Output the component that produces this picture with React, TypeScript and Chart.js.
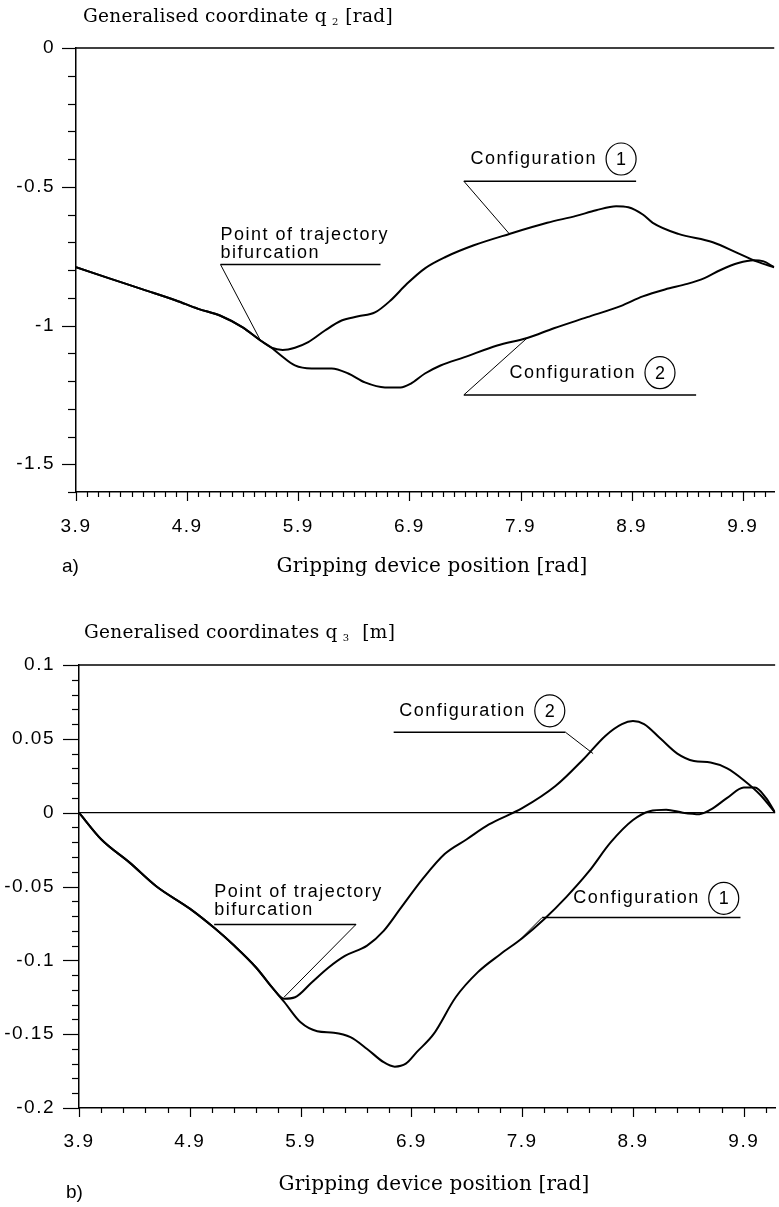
import React, { useEffect, useRef } from "react";
import { Chart, registerables } from "chart.js";

Chart.register(...registerables);

// ---------------- data ----------------
const xMin = 3.9;
const xMax = 10.183;
const xTickValues = [3.9, 4.9, 5.9, 6.9, 7.9, 8.9, 9.9];

// (a) generalised coordinate q2 [rad]
const q2YMin = -1.6;
const q2YMax = 0;
const q2YTicks = [0, -0.5, -1, -1.5];

const q2Config1X = [3.9, 4.2, 4.5, 4.8, 5.0, 5.2, 5.4, 5.56, 5.66, 5.76, 5.87, 5.99, 6.14, 6.29, 6.44, 6.59, 6.73, 6.88, 7.04, 7.22, 7.48, 7.8, 8.14, 8.4, 8.58, 8.76, 8.87, 9.0, 9.09, 9.32, 9.63, 9.86, 10.03, 10.183];
const q2Config1Y = [-0.79, -0.83, -0.87, -0.91, -0.94, -0.965, -1.007, -1.054, -1.08, -1.088, -1.08, -1.06, -1.018, -0.982, -0.967, -0.953, -0.91, -0.849, -0.794, -0.754, -0.711, -0.67, -0.63, -0.605, -0.585, -0.57, -0.574, -0.6, -0.63, -0.67, -0.7, -0.74, -0.77, -0.79];

const q2Config2X = [3.9, 4.2, 4.5, 4.8, 5.0, 5.2, 5.4, 5.56, 5.66, 5.72, 5.87, 6.02, 6.2, 6.35, 6.5, 6.68, 6.82, 6.91, 7.04, 7.18, 7.39, 7.69, 7.96, 8.2, 8.5, 8.8, 9.0, 9.2, 9.4, 9.55, 9.7, 9.86, 10.0, 10.08, 10.183];
const q2Config2Y = [-0.79, -0.83, -0.87, -0.91, -0.94, -0.965, -1.007, -1.054, -1.08, -1.1, -1.144, -1.155, -1.155, -1.173, -1.205, -1.223, -1.223, -1.21, -1.173, -1.144, -1.115, -1.072, -1.045, -1.01, -0.97, -0.93, -0.895, -0.87, -0.85, -0.83, -0.8, -0.775, -0.765, -0.768, -0.79];

// (b) generalised coordinate q3 [m]
const q3YMin = -0.2;
const q3YMax = 0.1;
const q3YTicks = [0.1, 0.05, 0, -0.05, -0.1, -0.15, -0.2];

const q3Config1X = [3.9, 4.1, 4.36, 4.6, 4.9, 5.12, 5.3, 5.5, 5.65, 5.75, 5.9, 6.05, 6.2, 6.35, 6.5, 6.65, 6.75, 6.85, 6.95, 7.1, 7.3, 7.5, 7.7, 7.9, 8.1, 8.3, 8.5, 8.7, 8.9, 9.05, 9.2, 9.35, 9.5, 9.6, 9.75, 9.9, 10.0, 10.1, 10.183];
const q3Config1Y = [0, -0.018, -0.034, -0.05, -0.065, -0.078, -0.09, -0.105, -0.119, -0.128, -0.142, -0.148, -0.149, -0.152, -0.16, -0.169, -0.172, -0.17, -0.162, -0.15, -0.125, -0.108, -0.096, -0.085, -0.072, -0.057, -0.04, -0.02, -0.005, 0.001, 0.002, 0.0, -0.001, 0.002, 0.01, 0.017, 0.017, 0.01, 0];

const q3Config2X = [3.9, 4.1, 4.36, 4.6, 4.9, 5.12, 5.3, 5.5, 5.65, 5.75, 5.85, 6.0, 6.15, 6.3, 6.5, 6.65, 6.8, 7.0, 7.2, 7.4, 7.6, 7.9, 8.2, 8.45, 8.65, 8.8, 8.9, 9.0, 9.15, 9.3, 9.45, 9.6, 9.75, 9.9, 10.05, 10.183];
const q3Config2Y = [0, -0.018, -0.034, -0.05, -0.065, -0.078, -0.09, -0.105, -0.119, -0.126, -0.125, -0.115, -0.105, -0.097, -0.09, -0.08, -0.065, -0.045, -0.028, -0.018, -0.008, 0.003, 0.018, 0.036, 0.052, 0.06, 0.062, 0.06, 0.05, 0.04, 0.035, 0.034, 0.03, 0.022, 0.012, 0];

// ---------------- annotation layout (data-unit anchors) ----------------
type Note = {
  lines: string[];
  circled?: string;
  textX: number;
  textY: number[];
  underline: [number, number, number];
  leader: [number, number, number, number];
};

const q2Notes: Note[] = [
  { lines: ["Configuration"], circled: "1", textX: 7.45, textY: [-0.4], underline: [7.39, 8.94, -0.48], leader: [7.39, -0.48, 7.8, -0.67] },
  { lines: ["Point of trajectory", "bifurcation"], textX: 5.2, textY: [-0.675, -0.74], underline: [5.2, 6.64, -0.78], leader: [5.2, -0.78, 5.56, -1.054] },
  { lines: ["Configuration"], circled: "2", textX: 7.8, textY: [-1.17], underline: [7.39, 9.48, -1.25], leader: [7.39, -1.25, 7.96, -1.045] },
];

const q3Notes: Note[] = [
  { lines: ["Configuration"], circled: "2", textX: 6.79, textY: [0.069], underline: [6.74, 8.29, 0.0545], leader: [8.29, 0.0545, 8.54, 0.04] },
  { lines: ["Point of trajectory", "bifurcation"], textX: 5.12, textY: [-0.0535, -0.066], underline: [5.12, 6.4, -0.0757], leader: [6.4, -0.0757, 5.75, -0.125] },
  { lines: ["Configuration"], circled: "1", textX: 8.36, textY: [-0.058], underline: [8.08, 9.87, -0.071], leader: [8.08, -0.071, 7.88, -0.086] },
];

// ---------------- helpers ----------------
const SANS = '"Liberation Sans", Arial, sans-serif';
const SERIF = '"DejaVu Serif", serif';

function pts(xs: number[], ys: number[]) {
  return xs.map((x, i) => ({ x, y: ys[i] }));
}

function drawText(ctx: CanvasRenderingContext2D, s: string, x: number, y: number, font: string, spacing: number, align: CanvasTextAlign = "left") {
  ctx.save();
  ctx.font = font;
  (ctx as any).letterSpacing = spacing + "px";
  ctx.textAlign = align;
  ctx.textBaseline = "middle";
  ctx.fillStyle = "#000";
  ctx.fillText(s, x, y);
  const w = ctx.measureText(s).width;
  ctx.restore();
  return w;
}

function line(ctx: CanvasRenderingContext2D, x1: number, y1: number, x2: number, y2: number, w = 1) {
  ctx.save();
  ctx.strokeStyle = "#000";
  ctx.lineWidth = w;
  ctx.beginPath();
  ctx.moveTo(x1, y1);
  ctx.lineTo(x2, y2);
  ctx.stroke();
  ctx.restore();
}

const framePlugin = {
  id: "frame",
  beforeDraw(chart: any) {
    (chart.ctx as any).letterSpacing = "1.5px";
  },
  afterDraw(chart: any, _args: any, opts: any) {
    const ctx: CanvasRenderingContext2D = chart.ctx;
    (ctx as any).letterSpacing = "0px";
    const xs = chart.scales.x;
    const ys = chart.scales.y;
    const { left, right, top, bottom } = chart.chartArea;

    // top frame line
    line(ctx, left, top, right, top, 1.5);
    if (opts.zeroLine) {
      const zy = ys.getPixelForValue(0);
      line(ctx, left, zy, right, zy, 1.2);
    }

    // y ticks
    const yMajors: number[] = opts.yMajors;
    const nMinor = Math.round((ys.max - ys.min) / opts.yMinorStep);
    for (let i = 0; i <= nMinor; i++) {
      const v = ys.min + i * opts.yMinorStep;
      const isMajor = yMajors.some((m) => Math.abs(m - v) < 1e-6);
      const py = Math.round(ys.getPixelForValue(v)) + 0.5;
      line(ctx, left - (isMajor ? opts.yMajorLen : opts.yMinorLen), py, left, py, 1.2);
    }
    // x ticks
    const nx = Math.floor((xs.max - xs.min) / opts.xMinorStep + 1e-6);
    for (let i = 0; i <= nx; i++) {
      const v = xs.min + i * opts.xMinorStep;
      const isMajor = xTickValues.some((m) => Math.abs(m - v) < 1e-6);
      const px = Math.round(xs.getPixelForValue(v)) + 0.5;
      line(ctx, px, bottom, px, bottom + (isMajor ? opts.xMajorLen : opts.xMinorLen), 1.2);
    }

    // titles
    const t = opts.title;
    let tx = t.x;
    tx += drawText(ctx, t.main, tx, t.y, t.font, t.spacing);
    tx += 5;
    tx += drawText(ctx, t.sub, tx, t.y + 5, t.subFont, 0);
    drawText(ctx, t.unit, tx + 7, t.y, t.font, t.spacing);

    const xt = opts.xTitle;
    drawText(ctx, xt.text, xt.x, xt.y, xt.font, xt.spacing, "center");
    const pl = opts.panel;
    drawText(ctx, pl.text, pl.x, pl.y, pl.font, 0);

    // annotations
    const notes: Note[] = opts.notes;
    const nf = "18px " + SANS;
    notes.forEach((n) => {
      const x0 = xs.getPixelForValue(n.textX);
      let w = 0;
      n.lines.forEach((s, i) => {
        const ww = drawText(ctx, s, x0, ys.getPixelForValue(n.textY[i]), nf, 1.5);
        w = Math.max(w, ww);
      });
      if (n.circled) {
        const cy = ys.getPixelForValue(n.textY[0]);
        const cx = x0 + w + 24;
        ctx.save();
        ctx.strokeStyle = "#000";
        ctx.lineWidth = 1.2;
        ctx.beginPath();
        ctx.ellipse(cx, cy, 15, 16, 0, 0, Math.PI * 2);
        ctx.stroke();
        ctx.restore();
        drawText(ctx, n.circled, cx, cy + 1, nf, 0, "center");
      }
      const [ux1, ux2, uy] = n.underline;
      const py = ys.getPixelForValue(uy);
      line(ctx, xs.getPixelForValue(ux1), py, xs.getPixelForValue(ux2), py, 1.5);
      const [lx1, ly1, lx2, ly2] = n.leader;
      line(ctx, xs.getPixelForValue(lx1), ys.getPixelForValue(ly1), xs.getPixelForValue(lx2), ys.getPixelForValue(ly2), 1);
    });
  },
};

function makeConfig(p: any) {
  return {
    type: "line",
    data: {
      datasets: p.series.map((s: any) => ({
        data: s,
        borderColor: "#000",
        borderWidth: 2,
        pointRadius: 0,
        fill: false,
        cubicInterpolationMode: "monotone",
      })),
    },
    options: {
      animation: false,
      responsive: false,
      devicePixelRatio: 1,
      events: [],
      layout: { padding: { left: 0, right: 0, top: p.padTop, bottom: 0 } },
      plugins: {
        legend: { display: false },
        tooltip: { enabled: false },
        title: { display: false },
        frame: p.frame,
      },
      scales: {
        x: {
          type: "linear",
          bounds: "data",
          min: xMin,
          max: xMax,
          afterBuildTicks: (s: any) => {
            s.ticks = xTickValues.map((v) => ({ value: v }));
          },
          afterFit: (s: any) => {
            s.height = p.xHeight;
          },
          ticks: {
            autoSkip: false,
            maxRotation: 0,
            padding: p.xPad,
            color: "#000",
            font: { family: SANS, size: 19 },
            callback: (v: number) => v.toFixed(1),
          },
          grid: { display: false, drawTicks: false },
          border: { display: true, color: "#000", width: 1.5 },
        },
        y: {
          type: "linear",
          bounds: "data",
          min: p.yMin,
          max: p.yMax,
          afterBuildTicks: (s: any) => {
            s.ticks = p.yTicks.map((v: number) => ({ value: v }));
          },
          afterFit: (s: any) => {
            s.width = p.yWidth;
          },
          ticks: {
            autoSkip: false,
            padding: p.yPad,
            color: "#000",
            font: { family: SANS, size: 19 },
            callback: (v: number) => String(v),
          },
          grid: { display: false, drawTicks: false },
          border: { display: true, color: "#000", width: 1.5 },
        },
      },
    },
    plugins: [framePlugin],
  };
}

function Panel(props: { cfg: any; top: number; height: number }) {
  const ref = useRef<HTMLCanvasElement>(null);
  useEffect(() => {
    const chart = new Chart(ref.current as HTMLCanvasElement, props.cfg);
    return () => chart.destroy();
  }, []);
  return (
    <canvas
      ref={ref}
      width={779}
      height={props.height}
      style={{ position: "absolute", left: 0, top: props.top, width: 779, height: props.height }}
    />
  );
}

const cfgA = makeConfig({
  series: [pts(q2Config1X, q2Config1Y), pts(q2Config2X, q2Config2Y)],
  padTop: 48,
  xHeight: 108,
  xPad: 23,
  yPad: 21,
  yWidth: 76,
  yMin: q2YMin,
  yMax: q2YMax,
  yTicks: q2YTicks,
  frame: {
    zeroLine: false,
    yMajors: q2YTicks,
    yMinorStep: 0.1,
    yMajorLen: 14,
    yMinorLen: 8,
    xMinorStep: 0.1,
    xMajorLen: 9,
    xMinorLen: 5,
    title: { x: 83, y: 17, main: "Generalised coordinate q", sub: "2", unit: "[rad]", font: "18.5px " + SERIF, subFont: "10px " + SERIF, spacing: 0.3 },
    xTitle: { text: "Gripping device position [rad]", x: 432, y: 567, font: "20px " + SERIF, spacing: 0.2 },
    panel: { text: "a)", x: 62, y: 567, font: "19px " + SANS },
    notes: q2Notes,
  },
});

const cfgB = makeConfig({
  series: [pts(q3Config1X, q3Config1Y), pts(q3Config2X, q3Config2Y)],
  padTop: 65,
  xHeight: 99,
  xPad: 22,
  yPad: 24,
  yWidth: 79,
  yMin: q3YMin,
  yMax: q3YMax,
  yTicks: q3YTicks,
  frame: {
    zeroLine: true,
    yMajors: q3YTicks,
    yMinorStep: 0.01,
    yMajorLen: 16,
    yMinorLen: 7,
    xMinorStep: 0.2,
    xMajorLen: 9,
    xMinorLen: 5,
    title: { x: 84, y: 33, main: "Generalised coordinates q", sub: "3", unit: " [m]", font: "18.5px " + SERIF, subFont: "10px " + SERIF, spacing: 0.3 },
    xTitle: { text: "Gripping device position [rad]", x: 434, y: 585, font: "20px " + SERIF, spacing: 0.2 },
    panel: { text: "b)", x: 66, y: 593, font: "19px " + SANS },
    notes: q3Notes,
  },
});

export default function App() {
  return (
    <div style={{ position: "absolute", left: 0, top: 0, width: 779, height: 1207, background: "#fff" }}>
      <Panel cfg={cfgA} top={0} height={600} />
      <Panel cfg={cfgB} top={600} height={607} />
    </div>
  );
}
